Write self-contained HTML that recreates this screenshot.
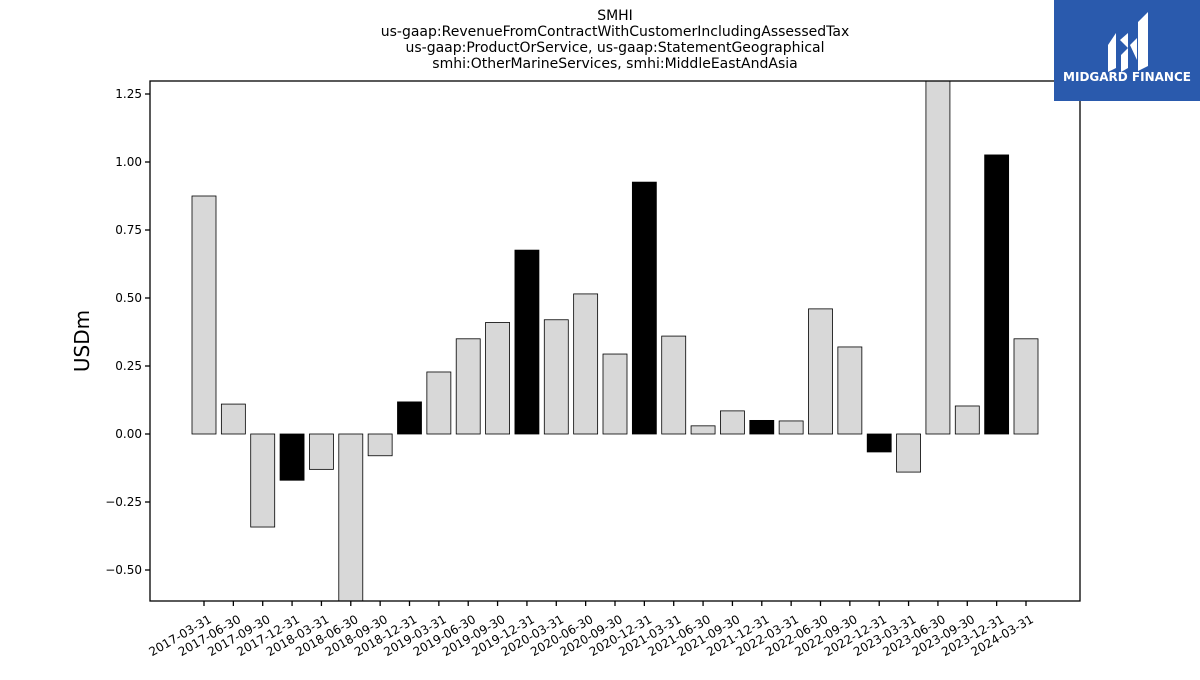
<!DOCTYPE html>
<html><head><meta charset="utf-8"><style>
body{margin:0;background:#fff;font-family:"Liberation Sans","DejaVu Sans",sans-serif;}
</style></head><body>
<svg width="1200" height="675" xmlns="http://www.w3.org/2000/svg" font-family="DejaVu Sans, Liberation Sans, sans-serif">
<g font-size="14" text-anchor="middle" fill="#000">
<text x="615" y="20">SMHI</text>
<text x="615" y="36">us-gaap:RevenueFromContractWithCustomerIncludingAssessedTax</text>
<text x="615" y="52">us-gaap:ProductOrService, us-gaap:StatementGeographical</text>
<text x="615" y="68">smhi:OtherMarineServices, smhi:MiddleEastAndAsia</text>
</g>
<defs><clipPath id="pc"><rect x="150" y="81" width="930" height="520"/></clipPath></defs>
<g id="bars" clip-path="url(#pc)"></g>
<g id="yaxis"></g>
<g id="xaxis"></g>
<rect x="150" y="81" width="930" height="520" fill="none" stroke="#000" stroke-width="1.3"/>
<text x="89" y="341" font-size="20" text-anchor="middle" transform="rotate(-90 89 341)">USDm</text>
<g>
<rect x="1054" y="0" width="146" height="101" fill="#2a5aad"/>
<path d="M1108 45 L1116 33 L1116 68 L1108 72 Z M1120 40 L1128 33 L1128 48 L1120 40 Z M1121 55 L1128 48 L1128 68 L1121 72 Z M1138 22 L1148 12 L1148 66 L1138 71 Z M1130 45 L1137 38 L1137 60 Z" fill="#fff"/>
<text x="1127" y="81" font-size="12" font-weight="bold" fill="#fff" text-anchor="middle">MIDGARD FINANCE</text>
</g>
</svg>
<script>
const categories=["2017-03-31","2017-06-30","2017-09-30","2017-12-31","2018-03-31","2018-06-30","2018-09-30","2018-12-31","2019-03-31","2019-06-30","2019-09-30","2019-12-31","2020-03-31","2020-06-30","2020-09-30","2020-12-31","2021-03-31","2021-06-30","2021-09-30","2021-12-31","2022-03-31","2022-06-30","2022-09-30","2022-12-31","2023-03-31","2023-06-30","2023-09-30","2023-12-31","2024-03-31"];
const values=[0.875,0.11,-0.342,-0.17,-0.13,-0.7,-0.08,0.118,0.228,0.35,0.41,0.676,0.42,0.515,0.294,0.926,0.36,0.03,0.085,0.05,0.048,0.46,0.32,-0.066,-0.14,1.4,0.103,1.026,0.35];
const yTicks=[-0.5,-0.25,0,0.25,0.5,0.75,1.0,1.25];
const NS="http://www.w3.org/2000/svg";
const y=v=>434-v*272;
const x=i=>204+i*(1026-204)/28;
const bw=24;
function mk(t,a,p){const e=document.createElementNS(NS,t);for(const k in a)e.setAttribute(k,a[k]);p.appendChild(e);return e;}
const bars=document.getElementById('bars'),xa=document.getElementById('xaxis'),ya=document.getElementById('yaxis');
values.forEach((v,i)=>{
 const dec=categories[i].endsWith('12-31');
 const r=mk('rect',{x:x(i)-bw/2,y:Math.min(y(v),y(0)),width:bw,height:Math.abs(y(v)-y(0)),fill:dec?'#000':'#d8d8d8',stroke:'#000','stroke-width':0.8},bars);
 
 
 const t=mk('line',{x1:x(i),x2:x(i),y1:601,y2:606,stroke:'#000','stroke-width':1.3},xa);
 
 
 const l=mk('text',{x:x(i)+4,y:614,'font-size':12,'text-anchor':'end',transform:`rotate(-30 ${x(i)+4} 614)`,'dominant-baseline':'hanging'},xa);
 l.textContent=categories[i];
 
 
});
yTicks.forEach(v=>{
 const t=mk('line',{x1:145,x2:150,y1:y(v),y2:y(v),stroke:'#000','stroke-width':1.3},ya);
 
 
 const l=mk('text',{x:142,y:y(v)+4,'font-size':12,'text-anchor':'end'},ya);
 l.textContent=(v<0?'\u2212':'')+Math.abs(v).toFixed(2);
 
 
});
</script>
</body></html>
